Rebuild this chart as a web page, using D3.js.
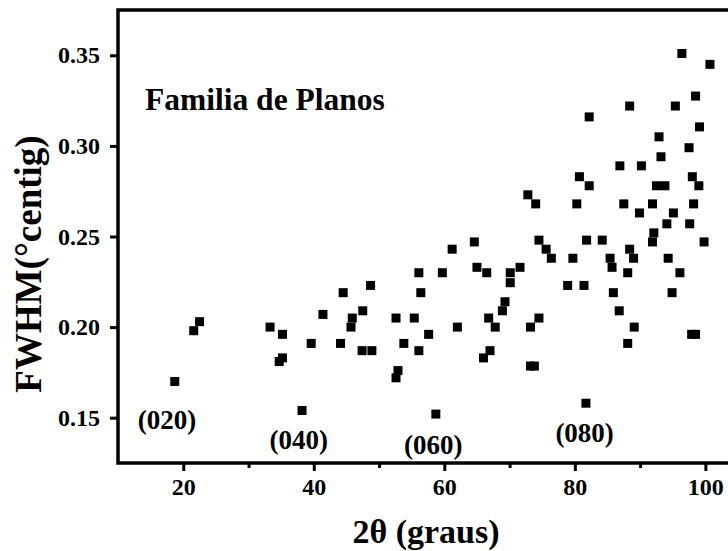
<!DOCTYPE html>
<html>
<head>
<meta charset="utf-8">
<script src="https://cdn.jsdelivr.net/npm/d3@7"></script>
<style>
  html, body { margin: 0; padding: 0; background: #fff; }
  svg { display: block; }
  text { font-family: "Liberation Serif", "Times New Roman", serif; font-weight: bold; fill: #000; }
</style>
</head>
<body>
<svg id="chart" width="728" height="551"></svg>
<script>
// Data: 2θ (degrees) and FWHM values
const twoTheta = [18.7, 21.6, 22.5, 33.3, 35.2, 34.7, 35.2, 38.2, 39.6, 41.4,
  44.5, 44.1, 48.7, 47.5, 45.9, 45.7, 47.4, 48.9, 52.6, 55.4,
  53.8, 52.9, 52.6, 56.1, 59.7, 56.4, 57.6, 56.1, 61.2, 64.6,
  65.0, 66.5, 62.0, 58.7, 66.8, 66.0, 67.0, 67.8, 69.3, 68.9,
  70.1, 70.1, 71.6, 72.8, 74.0, 74.5, 75.6, 76.4, 74.5, 73.2,
  73.2, 73.8, 78.9, 80.3, 80.7, 82.2, 79.7, 81.8, 81.4, 81.7,
  82.2, 84.2, 85.4, 85.7, 85.9, 86.8, 86.9, 87.5, 88.1, 88.1,
  88.4, 88.4, 89.0, 89.1, 89.9, 90.2, 91.9, 92.1, 91.9, 92.5,
  93.8, 92.9, 93.2, 94.1, 95.1, 94.3, 94.9, 95.4, 96.1, 96.4,
  97.5, 97.6, 98.0, 98.2, 98.5, 99.0, 99.1, 99.8, 100.7, 97.9, 98.5];
const fwhm = [0.170, 0.198, 0.203, 0.200, 0.196, 0.181, 0.183, 0.154, 0.191, 0.207,
  0.219, 0.191, 0.223, 0.209, 0.205, 0.200, 0.187, 0.187, 0.205, 0.205,
  0.191, 0.176, 0.172, 0.230, 0.230, 0.219, 0.196, 0.187, 0.243, 0.247,
  0.233, 0.230, 0.200, 0.152, 0.205, 0.183, 0.187, 0.200, 0.214, 0.209,
  0.230, 0.2245, 0.233, 0.273, 0.268, 0.248, 0.243, 0.238, 0.205, 0.200,
  0.1785, 0.1785, 0.223, 0.268, 0.283, 0.278, 0.238, 0.248, 0.223, 0.158,
  0.316, 0.248, 0.238, 0.233, 0.219, 0.209, 0.289, 0.268, 0.230, 0.191,
  0.322, 0.243, 0.238, 0.200, 0.263, 0.289, 0.268, 0.252, 0.247, 0.278,
  0.278, 0.305, 0.294, 0.257, 0.263, 0.238, 0.219, 0.322, 0.230, 0.351,
  0.299, 0.257, 0.283, 0.268, 0.3275, 0.278, 0.3105, 0.247, 0.345, 0.196, 0.196];

const xTicks = [20, 40, 60, 80, 100];
const xMinorTicks = [30, 50, 70, 90];
const yTicks = [0.15, 0.20, 0.25, 0.30, 0.35];

const planeLabels = ["(020)", "(040)", "(060)", "(080)"];
const planeLabelX = [17.5, 37.7, 58.3, 81.5];
const planeLabelY = [0.1436, 0.1326, 0.1299, 0.1365];

const svg = d3.select("#chart");
const mLeft = 118, mTop = 10, mBottom = 463, mRight = 738;

const x = d3.scaleLinear().domain([10, 105]).range([mLeft, mRight]);
const y = d3.scaleLinear().domain([0.125, 0.375]).range([mBottom, mTop]);

// frame
svg.append("rect")
  .attr("x", mLeft).attr("y", mTop)
  .attr("width", mRight - mLeft).attr("height", mBottom - mTop)
  .attr("fill", "none").attr("stroke", "#000").attr("stroke-width", 3.5);

// x axis
const xAxis = svg.append("g").attr("transform", `translate(0,${mBottom})`)
  .call(d3.axisBottom(x).tickValues(xTicks).tickSize(8).tickPadding(7).tickFormat(d3.format("d")));
xAxis.select(".domain").remove();
xAxis.selectAll(".tick line").attr("stroke-width", 3);
xAxis.selectAll(".tick text").style("font-size", "24px").style("font-family", "Liberation Serif").style("font-weight", "bold");

const xMinor = svg.append("g").attr("transform", `translate(0,${mBottom})`)
  .call(d3.axisBottom(x).tickValues(xMinorTicks).tickSize(5).tickFormat(""));
xMinor.select(".domain").remove();
xMinor.selectAll(".tick line").attr("stroke-width", 3);

// y axis
const yAxis = svg.append("g").attr("transform", `translate(${mLeft},0)`)
  .call(d3.axisLeft(y).tickValues(yTicks).tickSize(8).tickPadding(10).tickFormat(d3.format(".2f")));
yAxis.select(".domain").remove();
yAxis.selectAll(".tick line").attr("stroke-width", 3);
yAxis.selectAll(".tick text").style("font-size", "24px").style("font-family", "Liberation Serif").style("font-weight", "bold");

// points
const pts = twoTheta.map((d, i) => ({ x: d, y: fwhm[i] }));
const s = 9;
svg.append("g").selectAll("rect").data(pts).join("rect")
  .attr("x", d => x(d.x) - s / 2)
  .attr("y", d => y(d.y) - s / 2)
  .attr("width", s).attr("height", s)
  .attr("fill", "#000");

// plane labels
svg.append("g").selectAll("text").data(planeLabels).join("text")
  .attr("x", (d, i) => x(planeLabelX[i]))
  .attr("y", (d, i) => y(planeLabelY[i]))
  .attr("text-anchor", "middle")
  .style("font-size", "27px")
  .text(d => d);

// title inside
svg.append("text").attr("x", 145).attr("y", 110)
  .style("font-size", "31.5px").text("Familia de Planos");

// axis titles
svg.append("text").attr("x", 426).attr("y", 543).attr("text-anchor", "middle")
  .style("font-size", "34px").text("2θ (graus)");

svg.append("text").attr("transform", "translate(41,264) rotate(-90)")
  .attr("text-anchor", "middle")
  .style("font-size", "37px").text("FWHM(°centig)");
</script>
</body>
</html>
